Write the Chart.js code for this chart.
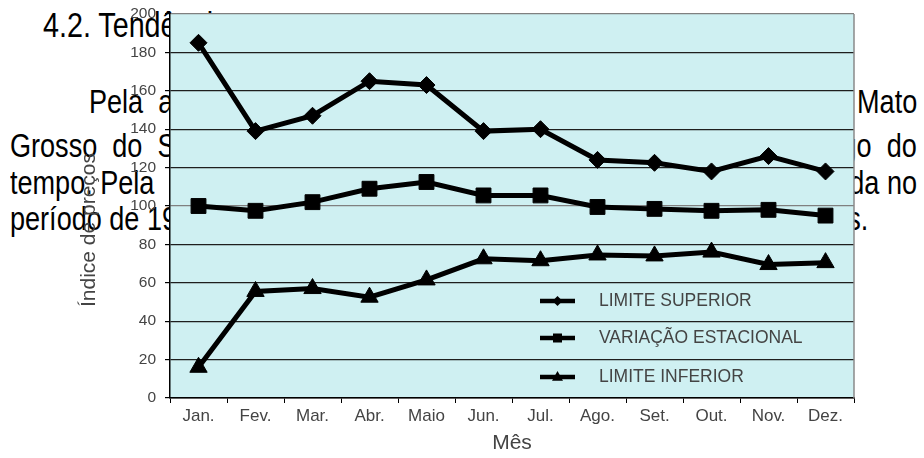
<!DOCTYPE html>
<html>
<head>
<meta charset="utf-8">
<script src="https://cdn.jsdelivr.net/npm/chart.js@4/dist/chart.umd.min.js"></script>
<style>
  html, body { margin: 0; padding: 0; background: #fff; }
  #page { position: relative; width: 924px; height: 458px; overflow: hidden; }
  .txt { position: absolute; font-family: "Liberation Sans"; font-size: 33px; line-height: 33px; color: #000; white-space: pre; transform: scaleX(0.82); transform-origin: left top; }
  .txt.r { transform-origin: right top; }
  #chart { position: absolute; left: 0; top: 0; }
</style>
</head>
<body>
<div id="page">
  <!-- page text behind the chart -->
  <div class="txt" style="left:43px;top:7px;font-size:35px;line-height:35px">4.2. Tendência</div>
  <div class="txt" style="left:89px;top:85px">Pela  análise</div>
  <div class="txt" style="left:10px;top:129px">Grosso  do  Sul</div>
  <div class="txt" style="left:10px;top:166px">tempo. Pela</div>
  <div class="txt" style="left:10px;top:202px">período de 1995</div>
  <div class="txt r" style="right:7px;top:85px">de Mato</div>
  <div class="txt r" style="right:7px;top:129px">longo  do</div>
  <div class="txt r" style="right:7px;top:166px">observada no</div>
  <div class="txt r" style="right:56px;top:202px">meses.</div>
  <canvas id="chart" width="924" height="458"></canvas>
</div>
<script>
var months = ['Jan.', 'Fev.', 'Mar.', 'Abr.', 'Maio', 'Jun.', 'Jul.', 'Ago.', 'Set.', 'Out.', 'Nov.', 'Dez.'];
var limiteSuperior = [185, 139, 147, 165, 163, 139, 140, 124, 122.5, 118, 126, 118];
var variacaoEstacional = [100, 97.5, 102, 109, 112.5, 105.5, 105.5, 99.5, 98.5, 97.5, 98, 95];
var limiteInferior = [16, 55.5, 57, 52.5, 61.5, 72.5, 71.5, 74.5, 74, 76, 69.5, 70.5];
var seriesNames = ['LIMITE SUPERIOR', 'VARIAÇÃO ESTACIONAL', 'LIMITE INFERIOR'];

var textColor = '#444';

function marker(ctx, style, x, y, r) {
  ctx.beginPath();
  if (style === 'diamond') {
    ctx.moveTo(x, y - r); ctx.lineTo(x + r, y); ctx.lineTo(x, y + r); ctx.lineTo(x - r, y);
  } else if (style === 'square') {
    ctx.rect(x - r, y - r, 2 * r, 2 * r);
  } else {
    ctx.moveTo(x, y - r * 1.1); ctx.lineTo(x + r, y + r * 0.7); ctx.lineTo(x - r, y + r * 0.7);
  }
  ctx.closePath();
  ctx.fill();
}

var plotFrame = {
  id: 'plotFrame',
  beforeDraw: function (chart) {
    var ctx = chart.ctx, a = chart.chartArea;
    ctx.save();
    ctx.fillStyle = '#cff0f2';
    ctx.fillRect(a.left, a.top, a.right - a.left, a.bottom - a.top);
    ctx.restore();
  },
  afterDraw: function (chart) {
    var ctx = chart.ctx, a = chart.chartArea;
    ctx.save();
    // right frame edge
    ctx.strokeStyle = '#8a8a8a';
    ctx.lineWidth = 1.5;
    ctx.beginPath();
    ctx.moveTo(a.right, a.top);
    ctx.lineTo(a.right, a.bottom);
    ctx.stroke();

    // legend inside plot
    var styles = ['diamond', 'square', 'triangle'];
    var sizes = [5, 4.5, 5.5];
    var rows = [a.bottom - 97, a.bottom - 60, a.bottom - 21];
    ctx.strokeStyle = '#000';
    seriesNames.forEach(function (name, i) {
      var y = rows[i];
      ctx.lineWidth = 4.5;
      ctx.beginPath();
      ctx.moveTo(a.left + 370, y);
      ctx.lineTo(a.left + 405, y);
      ctx.stroke();
      ctx.fillStyle = '#000';
      marker(ctx, styles[i], a.left + 387.5, y, sizes[i]);
      ctx.fillStyle = textColor;
      ctx.font = '17.5px "Liberation Sans"';
      ctx.textBaseline = 'middle';
      ctx.textAlign = 'left';
      ctx.fillText(name, a.left + 429, y);
    });

    // axis titles
    ctx.fillStyle = textColor;
    ctx.font = '21px "Liberation Sans"';
    ctx.textAlign = 'center';
    ctx.textBaseline = 'middle';
    ctx.fillText('Mês', (a.left + a.right) / 2, 443);
    ctx.translate(89, 230);
    ctx.rotate(-Math.PI / 2);
    ctx.fillText('Índice de preços', 0, 0);
    ctx.restore();
  }
};

function lineSet(label, data, style, radius) {
  return {
    label: label,
    data: data,
    borderColor: '#000',
    backgroundColor: '#000',
    borderWidth: 5,
    tension: 0,
    pointStyle: style,
    pointRadius: radius,
    pointBackgroundColor: '#000',
    pointBorderColor: '#000',
    pointBorderWidth: 1
  };
}

var chart = new Chart(document.getElementById('chart'), {
  type: 'line',
  data: {
    labels: months,
    datasets: [
      lineSet(seriesNames[0], limiteSuperior, 'rectRot', 8.5),
      lineSet(seriesNames[1], variacaoEstacional, 'rect', 10.5),
      lineSet(seriesNames[2], limiteInferior, 'triangle', 10)
    ]
  },
  options: {
    responsive: false,
    animation: false,
    devicePixelRatio: 1,
    layout: { padding: { top: 14, right: 70, bottom: 0, left: 0 } },
    plugins: {
      legend: { display: false },
      tooltip: { enabled: false }
    },
    scales: {
      x: {
        offset: true,
        grid: { offset: true, drawOnChartArea: false, drawTicks: true, tickLength: 5, color: '#000' },
        border: { color: '#000', width: 1.5 },
        ticks: { color: textColor, font: { family: 'Liberation Sans', size: 17 }, padding: 3, maxRotation: 0, autoSkip: false },
        afterFit: function (s) { s.height = 60; s.paddingLeft = 0; s.paddingRight = 0; }
      },
      y: {
        min: 0,
        max: 200,
        ticks: { stepSize: 20, color: textColor, font: { family: 'Liberation Sans', size: 15.5 }, padding: 9 },
        grid: {
          color: function (c) { return (c.tick.value === 100 || c.tick.value === 200) ? '#808080' : '#1e1e1e'; },
          tickColor: '#000',
          tickLength: 5,
          lineWidth: 1.2
        },
        border: { color: '#000', width: 1.5 },
        afterFit: function (s) { s.width = 170; s.paddingTop = 0; s.paddingBottom = 0; }
      }
    }
  },
  plugins: [plotFrame]
});
</script>
</body>
</html>
